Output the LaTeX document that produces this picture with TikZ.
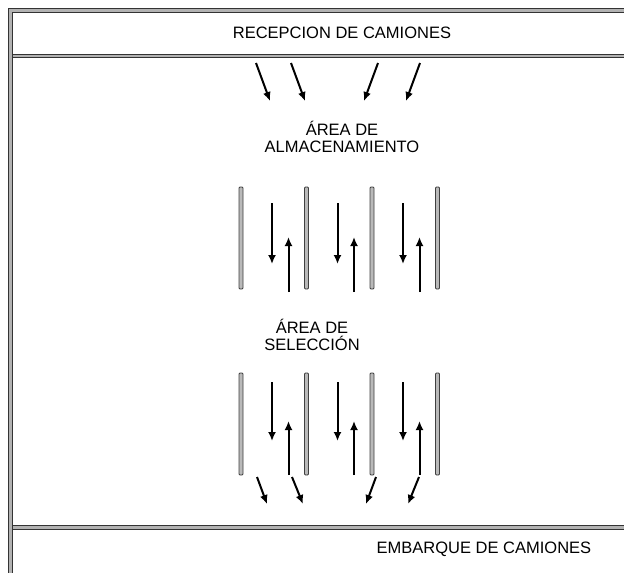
\documentclass[tikz,border=0pt]{standalone}
\usepackage{fontspec}
\setmainfont{Liberation Sans}
\usetikzlibrary{arrows.meta}
\begin{document}
\begin{tikzpicture}[x=1pt,y=-1pt,
    frame/.style={draw=black!80, line width=1pt, double=gray!60, double distance=2.2pt},
    rail/.style={draw=black!75, fill=gray!55, line width=0.8pt, rounded corners=1pt},
    flow/.style={line width=2pt, -{Latex[length=9pt,width=8pt]}},
    label/.style={font=\fontsize{16.5}{17.5}\selectfont, align=center, inner sep=0pt}]
    \useasboundingbox (0,0) rectangle (624,573);
    % table frame
    \draw [frame] (10.5,600) -- (10.5,10.5) -- (640,10.5);
    \draw [frame] (13,56) -- (640,56);
    \draw [frame] (13,527.5) -- (640,527.5);

    % titles
    \node [label] (recepcion) at (342,33) {RECEPCION DE CAMIONES};
    \node [label] (embarque) at (484,549) {EMBARQUE DE CAMIONES};
    \node [label] (almacen) at (342,137) {ÁREA DE\\ALMACENAMIENTO};
    \node [label] (seleccion) at (312,335) {ÁREA DE\\SELECCIÓN};

    % incoming trucks
    \foreach \a/\b in {256/270, 291/305, 378/364, 420/406} {
        \draw [flow] (\a,63) -- (\b,101);
    }

    % aisles
    \foreach \x in {241,306.5,372,437.5} {
        \filldraw [rail] (\x-2,187) rectangle (\x+2,289);
        \filldraw [rail] (\x-2,373) rectangle (\x+2,475);
    }
    \foreach \x in {272,337.5,403} {
        \draw [flow] (\x,203) -- (\x,264);
        \draw [flow] (\x+16.5,292) -- (\x+16.5,237);
        \draw [flow] (\x,382) -- (\x,441);
        \draw [flow] (\x+16.5,475) -- (\x+16.5,421);
    }

    % outgoing trucks
    \foreach \a/\b in {257/267, 292/303, 376/366, 419/408} {
        \draw [flow] (\a,477) -- (\b,504);
    }
\end{tikzpicture}
\end{document}
